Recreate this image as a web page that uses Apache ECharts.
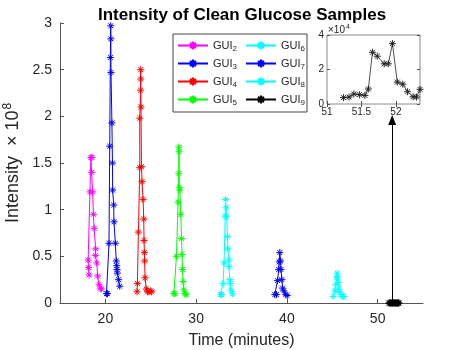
<!DOCTYPE html>
<html>
<head>
<meta charset="utf-8">
<script src="https://cdn.jsdelivr.net/npm/echarts@6/dist/echarts.min.js"></script>
<style>
  html, body { margin: 0; padding: 0; background: #fff; }
  #chart { width: 467px; height: 350px; }
</style>
</head>
<body>
<div id="chart"></div>
<script>
// retention time (minutes) and intensity (x 10^8) per sample
const gui2T = [18.2, 18.15, 18.1, 18.3, 18.4, 18.52, 18.48, 18.6, 18.68, 18.76, 18.93, 18.9, 19.05, 19.15, 19.3, 19.45, 19.55]
const gui2V = [0.30, 0.38, 0.46, 1.19, 1.56, 1.56, 1.40, 1.19, 0.95, 0.80, 0.58, 0.51, 0.43, 0.29, 0.20, 0.16, 0.15]
const gui3T = [20.12, 20.23, 20.4, 20.48, 20.55, 20.59, 20.6, 20.62, 20.72, 20.78, 20.8, 20.92, 20.95, 21.1, 21.2, 21.25, 21.28, 21.32, 21.45, 21.58]
const gui3V = [0.10, 0.10, 0.64, 1.68, 2.63, 2.97, 2.83, 2.47, 1.93, 1.50, 1.21, 1.05, 0.87, 0.64, 0.45, 0.40, 0.36, 0.32, 0.25, 0.18]
const gui4T = [23.49, 23.53, 23.64, 23.79, 23.79, 23.88, 23.9, 23.9, 23.92, 23.98, 24.04, 24.15, 24.23, 24.26, 24.3, 24.33, 24.37, 24.5, 24.65, 24.8, 25.0, 25.1]
const gui4V = [0.12, 0.21, 0.76, 1.45, 1.98, 2.28, 2.50, 2.40, 2.10, 1.46, 1.30, 1.11, 0.90, 0.67, 0.54, 0.45, 0.27, 0.15, 0.12, 0.12, 0.13, 0.12]
const gui5T = [27.55, 27.65, 27.83, 28.01, 28.08, 28.09, 28.12, 28.15, 28.2, 28.31, 28.39, 28.45, 28.5, 28.56, 28.65, 28.75, 28.9]
const gui5V = [0.10, 0.10, 0.50, 1.08, 1.39, 1.67, 1.62, 1.24, 1.21, 0.95, 0.69, 0.52, 0.36, 0.23, 0.14, 0.10, 0.09]
const gui6T = [32.7, 32.8, 32.97, 33.08, 33.2, 33.24, 33.3, 33.35, 33.46, 33.5, 33.6, 33.62, 33.71, 33.75, 33.82, 34.0]
const gui6V = [0.09, 0.09, 0.21, 0.43, 0.93, 1.11, 1.02, 0.93, 0.71, 0.58, 0.46, 0.39, 0.25, 0.21, 0.14, 0.10]
const gui7T = [38.67, 38.85, 38.97, 39.1, 39.15, 39.22, 39.3, 39.35, 39.45, 39.52, 39.66, 39.88, 40.03]
const gui7V = [0.09, 0.09, 0.24, 0.36, 0.44, 0.54, 0.45, 0.36, 0.25, 0.16, 0.13, 0.09, 0.08]
const gui8T = [45.1, 45.3, 45.4, 45.48, 45.54, 45.6, 45.65, 45.72, 45.8, 45.95, 46.15, 46.28]
const gui8V = [0.07, 0.13, 0.20, 0.27, 0.32, 0.28, 0.22, 0.16, 0.12, 0.09, 0.07, 0.07]
// GUI9 is tiny: values here are x 10^4 (inset units)
const gui9T = [51.24, 51.32, 51.39, 51.47, 51.55, 51.6, 51.66, 51.73, 51.83, 51.89, 51.95, 52.02, 52.1, 52.17, 52.25, 52.3, 52.35]
const gui9V = [0.37, 0.40, 0.58, 0.54, 0.50, 0.87, 3.0, 2.77, 2.33, 2.33, 3.5, 1.27, 1.15, 0.71, 0.42, 0.40, 0.85]

const seriesNames = ['GUI2', 'GUI3', 'GUI4', 'GUI5', 'GUI6', 'GUI7', 'GUI8', 'GUI9']
const seriesColors = ['#ff00ff', '#0000ff', '#ff0000', '#00ff00', '#00ffff', '#0000ff', '#00ffff', '#000000']

const xTicks = [20, 30, 40, 50]
const insetXTicks = [51, 51.5, 52]
const arrowX = 51.6 // annotation arrow pointing at the GUI9 peak
const arrowTop = 1.96

const star = 'path://M0,5L10,5M5,0L5,10M1.5,1.5L8.5,8.5M1.5,8.5L8.5,1.5'
const zip = (t, v, k = 1) => t.map((x, i) => [x, v[i] * k])

const mainData = [
  zip(gui2T, gui2V), zip(gui3T, gui3V), zip(gui4T, gui4V), zip(gui5T, gui5V),
  zip(gui6T, gui6V), zip(gui7T, gui7V), zip(gui8T, gui8V), zip(gui9T, gui9V, 1e-4),
]

const txt = '#262626'
const axisCol = '#555'
const font = 'Liberation Sans'

const lineSeries = (name, data, color, xi, yi) => ({
  name,
  type: 'line',
  xAxisIndex: xi,
  yAxisIndex: yi,
  data,
  symbol: star,
  symbolSize: 7,
  showAllSymbol: true,
  lineStyle: { color, width: 1 },
  itemStyle: { color, borderColor: color, borderWidth: 1 },
  emphasis: { disabled: true },
})

const series = seriesNames.map((n, i) => lineSeries(n, mainData[i], seriesColors[i], 0, 0))
// arrow from GUI9 up to the inset
series[7].markLine = {
  silent: true,
  symbol: ['none', 'triangle'],
  symbolSize: [8, 10],
  label: { show: false },
  lineStyle: { color: '#000', width: 1, type: 'solid' },
  data: [[{ coord: [arrowX, 0] }, { coord: [arrowX, arrowTop] }]],
}
series.push(lineSeries('inset', zip(gui9T, gui9V), '#222', 1, 1))
series[8].lineStyle.width = 0.8

const legendRich = {
  base: { fontSize: 11, color: txt, fontFamily: font },
  sub: { fontSize: 8, color: txt, fontFamily: font, padding: [6, 0, 0, 0] },
}
const legendFmt = (name) => '{base|GUI}{sub|' + name.slice(3) + '}'
const legendBase = {
  orient: 'vertical',
  top: 40,
  padding: 0,
  itemWidth: 30,
  itemHeight: 10,
  itemGap: 5.5,
  selectedMode: false,
  formatter: legendFmt,
  textStyle: { rich: legendRich },
}

const option = {
  animation: false,
  title: {
    text: 'Intensity of Clean Glucose Samples',
    left: 93,
    top: 2,
    textStyle: { fontSize: 17, fontWeight: 'bold', color: '#000', fontFamily: font },
  },
  legend: [
    { ...legendBase, left: 177, data: seriesNames.slice(0, 4) },
    { ...legendBase, left: 245, data: seriesNames.slice(4) },
  ],
  graphic: [
    {
      type: 'rect',
      z: 3,
      shape: { x: 173, y: 34, width: 134, height: 78 },
      style: { fill: '#fff', stroke: '#444', lineWidth: 1 },
    },
    {
      type: 'text',
      x: 328,
      y: 24,
      style: {
        text: '\u00d710{sup|4}',
        fontSize: 10,
        fill: txt,
        fontFamily: font,
        rich: { sup: { fontSize: 7, fill: txt, padding: [0, 0, 6, 1] } },
      },
    },
  ],
  grid: [
    { left: 60, top: 23, width: 363, height: 280, outerBoundsMode: 'none' },
    { left: 327, top: 35, width: 93, height: 69, outerBoundsMode: 'none', show: true, borderColor: '#888', borderWidth: 1, backgroundColor: '#fff' },
  ],
  xAxis: [
    {
      type: 'value', gridIndex: 0, min: 15, max: 55,
      axisLine: { show: true, lineStyle: { color: axisCol } },
      axisTick: { inside: true, length: 4, customValues: xTicks, lineStyle: { color: axisCol } },
      axisLabel: { customValues: xTicks, fontSize: 14, color: txt, margin: 9, fontFamily: font },
      splitLine: { show: false },
      name: 'Time (minutes)', nameLocation: 'middle', nameGap: 30,
      nameTextStyle: { fontSize: 16, color: txt, fontFamily: font },
    },
    {
      type: 'value', gridIndex: 1, min: 51, max: 52.35,
      axisLine: { show: false },
      axisTick: { inside: true, length: 3, customValues: insetXTicks, lineStyle: { color: axisCol } },
      axisLabel: { customValues: insetXTicks, fontSize: 10, color: txt, margin: 3, fontFamily: font },
      splitLine: { show: false },
    },
    {
      type: 'value', gridIndex: 1, min: 51, max: 52.35, position: 'top',
      axisLine: { show: false },
      axisTick: { inside: true, length: 3, customValues: insetXTicks, lineStyle: { color: axisCol } },
      axisLabel: { show: false },
      splitLine: { show: false },
    },
  ],
  yAxis: [
    {
      type: 'value', gridIndex: 0, min: 0, max: 3, interval: 0.5,
      axisLine: { show: true, lineStyle: { color: axisCol } },
      axisTick: { show: true, inside: true, length: 4, lineStyle: { color: axisCol } },
      axisLabel: { fontSize: 14, color: txt, margin: 8, fontFamily: font },
      splitLine: { show: false },
      name: 'Intensity  \u00d7 10{sup|8}', nameLocation: 'middle', nameGap: 23,
      nameTextStyle: {
        fontSize: 18, color: txt, fontFamily: font,
        rich: { sup: { fontSize: 12, color: txt, padding: [0, 0, 10, 1] } },
      },
    },
    {
      type: 'value', gridIndex: 1, min: 0, max: 4, interval: 2,
      axisLine: { show: false },
      axisTick: { show: true, inside: true, length: 3, lineStyle: { color: axisCol } },
      axisLabel: { fontSize: 10, color: txt, margin: 3, fontFamily: font },
      splitLine: { show: false },
    },
    {
      type: 'value', gridIndex: 1, min: 0, max: 4, interval: 2, position: 'right',
      axisLine: { show: false },
      axisTick: { show: true, inside: true, length: 3, lineStyle: { color: axisCol } },
      axisLabel: { show: false },
      splitLine: { show: false },
    },
  ],
  series,
}

const chart = echarts.init(document.getElementById('chart'))
chart.setOption(option)
</script>
</body>
</html>
